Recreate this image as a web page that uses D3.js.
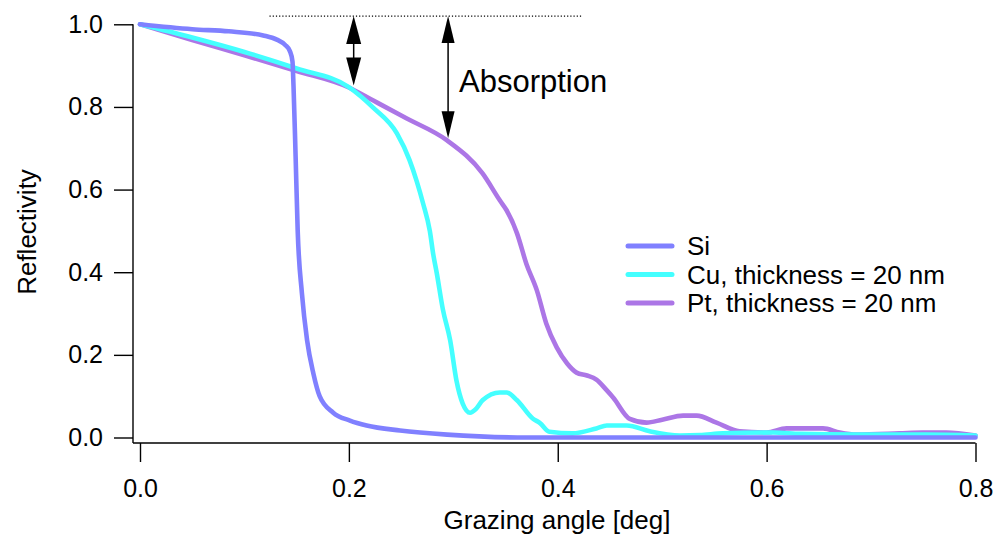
<!DOCTYPE html>
<html>
<head>
<meta charset="utf-8">
<script src="https://cdn.jsdelivr.net/npm/d3@7"></script>
<style>
  body { margin: 0; background: #fff; }
  text { font-family: "Liberation Sans", Arial, sans-serif; fill: #000; }
</style>
</head>
<body>
<div id="chart"></div>
<script>
var svgWidth = 995;
var svgHeight = 537;

// Data
var siX = [0, 0.05, 0.085, 0.118, 0.131, 0.139, 0.1435, 0.146, 0.147, 0.149, 0.151, 0.155, 0.160, 0.166, 0.172, 0.185, 0.201, 0.217, 0.249, 0.294, 0.37, 0.8];
var siY = [1.0, 0.988, 0.983, 0.973, 0.963, 0.950, 0.935, 0.91, 0.85, 0.68, 0.50, 0.35, 0.235, 0.155, 0.10, 0.06, 0.041, 0.029, 0.017, 0.007, 0.0, 0.0];

var cuX = [0, 0.05, 0.1, 0.15, 0.2, 0.223, 0.246, 0.258, 0.265, 0.271, 0.2775, 0.281, 0.284, 0.290, 0.297, 0.303, 0.309, 0.316, 0.322, 0.328, 0.3445, 0.351, 0.361, 0.376, 0.383, 0.392, 0.414, 0.437, 0.447, 0.466, 0.488, 0.517, 0.536, 0.558, 0.606, 0.632, 0.686, 0.753, 0.8];
var cuY = [1.0, 0.968, 0.933, 0.893, 0.848, 0.799, 0.736, 0.672, 0.62, 0.567, 0.50, 0.44, 0.40, 0.31, 0.235, 0.138, 0.082, 0.06, 0.07, 0.09, 0.109, 0.109, 0.09, 0.046, 0.035, 0.014, 0.01, 0.022, 0.029, 0.029, 0.015, 0.005, 0.006, 0.01, 0.012, 0.009, 0.007, 0.007, 0.005];

var ptX = [0, 0.05, 0.1, 0.15, 0.2, 0.223, 0.2555, 0.294, 0.328, 0.3445, 0.351, 0.361, 0.370, 0.380, 0.389, 0.399, 0.409, 0.418, 0.428, 0.437, 0.447, 0.453, 0.469, 0.485, 0.50, 0.520, 0.533, 0.552, 0.574, 0.600, 0.619, 0.654, 0.670, 0.686, 0.727, 0.749, 0.772, 0.8];
var ptY = [1.0, 0.962, 0.925, 0.887, 0.847, 0.816, 0.772, 0.719, 0.639, 0.574, 0.55, 0.494, 0.42, 0.356, 0.276, 0.218, 0.179, 0.157, 0.15, 0.14, 0.114, 0.097, 0.045, 0.036, 0.043, 0.053, 0.053, 0.036, 0.015, 0.012, 0.022, 0.022, 0.012, 0.007, 0.01, 0.012, 0.012, 0.005];

var seriesNames = ["Si", "Cu, thickness = 20 nm", "Pt, thickness = 20 nm"];
var seriesColors = ["#8080ff", "#44ffff", "#ac76e6"];

var xTicks = [0, 0.2, 0.4, 0.6, 0.8];
var yTicks = [0, 0.2, 0.4, 0.6, 0.8, 1.0];

var svg = d3.select("#chart")
  .append("svg")
  .attr("width", svgWidth)
  .attr("height", svgHeight);

var x = d3.scaleLinear().domain([0, 0.8]).range([140, 975.5]);
var y = d3.scaleLinear().domain([0, 1]).range([437.5, 24.3]);

// Axes (offset from the plot like the original)
var bottomAxis = d3.axisBottom(x).tickValues(xTicks).tickFormat(d3.format(".1f")).tickSize(19).tickSizeOuter(0);
var leftAxis = d3.axisLeft(y).tickValues(yTicks).tickFormat(d3.format(".1f")).tickSize(19).tickSizeOuter(0);

var gx = svg.append("g")
  .attr("transform", "translate(0,443)")
  .call(bottomAxis);
gx.select(".domain").remove();
gx.append("line")
  .attr("x1", 133).attr("x2", x(0.8)).attr("y1", 0).attr("y2", 0)
  .attr("stroke", "#000").attr("stroke-width", 1.4);
gx.selectAll(".tick line").attr("stroke-width", 1.4);
gx.selectAll(".tick text")
  .attr("y", 36)
  .attr("font-size", 25)
  .attr("font-family", "Liberation Sans, Arial, sans-serif");

var gy = svg.append("g")
  .attr("transform", "translate(133,0)")
  .call(leftAxis);
gy.select(".domain").remove();
gy.append("line")
  .attr("x1", 0).attr("x2", 0).attr("y1", y(1)).attr("y2", 443)
  .attr("stroke", "#000").attr("stroke-width", 1.4);
gy.selectAll(".tick line").attr("stroke-width", 1.4);
gy.selectAll(".tick text")
  .attr("x", -30)
  .attr("font-size", 25)
  .attr("font-family", "Liberation Sans, Arial, sans-serif");

// Axis titles
svg.append("text")
  .attr("x", 557)
  .attr("y", 529)
  .attr("text-anchor", "middle")
  .attr("font-size", 26)
  .text("Grazing angle [deg]");

svg.append("text")
  .attr("transform", "translate(36,232) rotate(-90)")
  .attr("text-anchor", "middle")
  .attr("font-size", 26)
  .text("Reflectivity");

// Curves
var line = d3.line()
  .x(d => x(d[0]))
  .y(d => y(d[1]))
  .curve(d3.curveMonotoneX);

var series = [
  { name: seriesNames[2], color: seriesColors[2], pts: d3.zip(ptX, ptY) },
  { name: seriesNames[1], color: seriesColors[1], pts: d3.zip(cuX, cuY) },
  { name: seriesNames[0], color: seriesColors[0], pts: d3.zip(siX, siY) }
];

svg.selectAll("path.curve")
  .data(series)
  .enter()
  .append("path")
  .attr("class", "curve")
  .attr("d", d => line(d.pts))
  .attr("fill", "none")
  .attr("stroke", d => d.color)
  .attr("stroke-width", 4.6)
  .attr("stroke-linejoin", "round")
  .attr("stroke-linecap", "round");

// Legend
var legend = svg.append("g");
seriesNames.forEach(function(name, i) {
  var ly = 246 + i * 28.5;
  legend.append("line")
    .attr("x1", 628).attr("x2", 672)
    .attr("y1", ly).attr("y2", ly)
    .attr("stroke", seriesColors[i])
    .attr("stroke-width", 5)
    .attr("stroke-linecap", "round");
  legend.append("text")
    .attr("x", 687)
    .attr("y", ly + 9)
    .attr("font-size", 26)
    .text(name);
});

// Absorption annotation
svg.append("line")
  .attr("x1", x(0.124)).attr("x2", x(0.423))
  .attr("y1", y(1.02)).attr("y2", y(1.02))
  .attr("stroke", "#000")
  .attr("stroke-width", 1.2)
  .attr("stroke-dasharray", "1.2,2");

function doubleArrow(xv, y1v, y2v, hw, hl) {
  var ax = x(xv), top = y(y1v), bot = y(y2v);
  svg.append("line")
    .attr("x1", ax).attr("x2", ax)
    .attr("y1", top + hl - 2).attr("y2", bot - hl + 2)
    .attr("stroke", "#000").attr("stroke-width", 1.5);
  svg.append("path")
    .attr("d", `M${ax},${top} L${ax - hw / 2},${top + hl} L${ax + hw / 2},${top + hl} Z`)
    .attr("fill", "#000");
  svg.append("path")
    .attr("d", `M${ax},${bot} L${ax - hw / 2},${bot - hl} L${ax + hw / 2},${bot - hl} Z`)
    .attr("fill", "#000");
}

doubleArrow(0.2046, 1.02, 0.852, 15, 28);
doubleArrow(0.295, 1.02, 0.724, 13, 27);

svg.append("text")
  .attr("x", 459)
  .attr("y", 92)
  .attr("font-size", 31)
  .text("Absorption");
</script>
</body>
</html>
